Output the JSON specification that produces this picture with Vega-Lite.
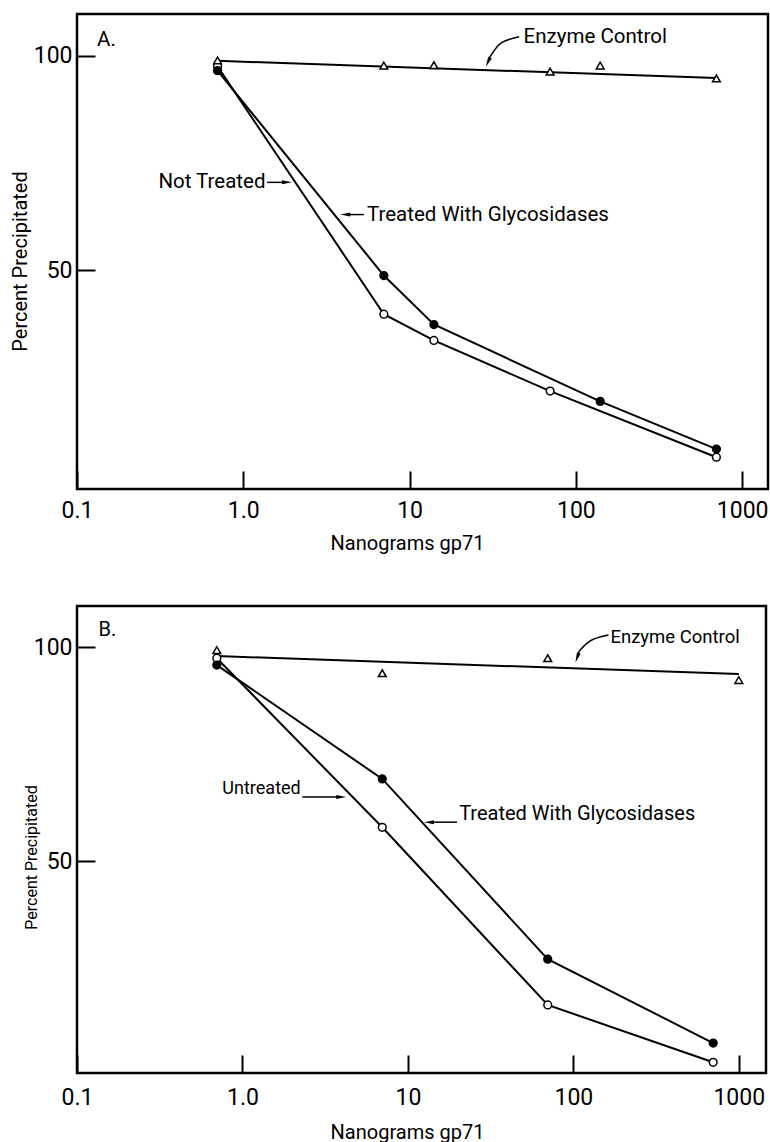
{
  "$schema": "https://vega.github.io/schema/vega-lite/v6.json",
  "background": "white",
  "padding": {"left": 8, "top": 12, "right": 0, "bottom": 0},
  "bounds": "flush",
  "spacing": 117,
  "resolve": {"scale": {"x": "independent", "y": "independent"}},
  "config": {
    "font": "Roboto",
    "view": {"stroke": "black", "strokeWidth": 2.5},
    "axis": {
      "domain": false,
      "tickColor": "black", "tickWidth": 2, "tickSize": 18, "offset": -18,
      "labelColor": "black", "labelFontSize": 23, "labelFont": "Roboto",
      "titleColor": "black", "titleFontWeight": "normal", "titleFontSize": 20, "titleFont": "Roboto",
      "grid": false, "labelFlush": false
    },
    "axisY": {"labelPadding": 5},
    "text": {"font": "Roboto", "color": "black"}
  },
  "datasets": {
    "a_points": [
      {"series": "Not Treated", "ng": 0.7, "pct": 97.5},
      {"series": "Not Treated", "ng": 7, "pct": 39.8},
      {"series": "Not Treated", "ng": 14, "pct": 33.7},
      {"series": "Not Treated", "ng": 70, "pct": 21.9},
      {"series": "Not Treated", "ng": 700, "pct": 6.5},
      {"series": "Treated With Glycosidases", "ng": 0.7, "pct": 96.5},
      {"series": "Treated With Glycosidases", "ng": 7, "pct": 48.8},
      {"series": "Treated With Glycosidases", "ng": 14, "pct": 37.4},
      {"series": "Treated With Glycosidases", "ng": 140, "pct": 19.5},
      {"series": "Treated With Glycosidases", "ng": 700, "pct": 8.4},
      {"series": "Enzyme Control", "ng": 0.7, "pct": 98.9},
      {"series": "Enzyme Control", "ng": 7, "pct": 97.7},
      {"series": "Enzyme Control", "ng": 14, "pct": 97.8},
      {"series": "Enzyme Control", "ng": 70, "pct": 96.3},
      {"series": "Enzyme Control", "ng": 140, "pct": 97.7},
      {"series": "Enzyme Control", "ng": 700, "pct": 94.7}
    ],
    "a_fit": [
      {"ng": 0.7, "pct": 98.8},
      {"ng": 700, "pct": 94.8}
    ],
    "a_arrows": [
      {"arrow": "enz", "ord": 1, "ng": 45.6, "pct": 104.4},
      {"arrow": "enz", "ord": 2, "ng": 35.6, "pct": 103.0},
      {"arrow": "enz", "ord": 3, "ng": 31.0, "pct": 100.2},
      {"arrow": "enz", "ord": 4, "ng": 29.8, "pct": 98.8},
      {"arrow": "not", "ord": 1, "ng": 1.39, "pct": 70.5},
      {"arrow": "not", "ord": 2, "ng": 1.8, "pct": 70.5},
      {"arrow": "tr", "ord": 1, "ng": 5.31, "pct": 63.0},
      {"arrow": "tr", "ord": 2, "ng": 4.2, "pct": 63.0}
    ],
    "a_heads": [
      {"arrow": "enz", "ng": 29.6, "pct": 98.5},
      {"arrow": "not", "ng": 1.83, "pct": 70.5},
      {"arrow": "tr", "ng": 4.1, "pct": 63.0}
    ],
    "a_notes": [
      {"label": "A.", "ng": 0.132, "pct": 103.7},
      {"label": "Enzyme Control", "ng": 48.5, "pct": 104.4},
      {"label": "Treated With Glycosidases", "ng": 5.54, "pct": 63.0},
      {"label": "Not Treated", "ng": 1.36, "pct": 70.5}
    ],
    "b_points": [
      {"series": "Untreated", "ng": 0.7, "pct": 97.4},
      {"series": "Untreated", "ng": 7, "pct": 57.9},
      {"series": "Untreated", "ng": 70, "pct": 16.4},
      {"series": "Untreated", "ng": 700, "pct": 3.0},
      {"series": "Treated With Glycosidases", "ng": 0.7, "pct": 95.8},
      {"series": "Treated With Glycosidases", "ng": 7, "pct": 69.2},
      {"series": "Treated With Glycosidases", "ng": 70, "pct": 27.1},
      {"series": "Treated With Glycosidases", "ng": 700, "pct": 7.5},
      {"series": "Enzyme Control", "ng": 0.7, "pct": 99.3},
      {"series": "Enzyme Control", "ng": 7, "pct": 93.9},
      {"series": "Enzyme Control", "ng": 70, "pct": 97.4},
      {"series": "Enzyme Control", "ng": 1000, "pct": 92.3}
    ],
    "b_fit": [
      {"ng": 0.7, "pct": 97.9},
      {"ng": 1000, "pct": 93.7}
    ],
    "b_arrows": [
      {"arrow": "enz", "ord": 1, "ng": 163, "pct": 102.8},
      {"arrow": "enz", "ord": 2, "ng": 128.5, "pct": 101.6},
      {"arrow": "enz", "ord": 3, "ng": 110, "pct": 99.3},
      {"arrow": "enz", "ord": 4, "ng": 105.8, "pct": 97.8},
      {"arrow": "un", "ord": 1, "ng": 2.3, "pct": 65.0},
      {"arrow": "un", "ord": 2, "ng": 3.9, "pct": 65.0},
      {"arrow": "tr", "ord": 1, "ng": 19.8, "pct": 59.1},
      {"arrow": "tr", "ord": 2, "ng": 13.6, "pct": 59.1}
    ],
    "b_heads": [
      {"arrow": "enz", "ng": 105.4, "pct": 97.5},
      {"arrow": "un", "ng": 3.95, "pct": 65.0},
      {"arrow": "tr", "ng": 13.4, "pct": 59.1}
    ],
    "b_notes": [
      {"label": "B.", "ng": 0.135, "pct": 104.0},
      {"label": "Enzyme Control", "ng": 167.5, "pct": 102.3},
      {"label": "Treated With Glycosidases", "ng": 20.4, "pct": 61.0},
      {"label": "Untreated", "ng": 2.25, "pct": 66.8}
    ]
  },
  "vconcat": [
    {
      "width": 691,
      "height": 475,
      "encoding": {
        "x": {
          "field": "ng", "type": "quantitative",
          "scale": {"type": "log", "domain": [0.1, 1430], "nice": false},
          "axis": {
            "values": [0.1, 1, 10, 100, 1000],
            "labelExpr": "datum.value < 0.5 ? '0.1' : datum.value < 5 ? '1.0' : format(datum.value, 'd')",
            "title": "Nanograms gp71", "titleX": 330, "labelPadding": 10, "titlePadding": 11
          }
        },
        "y": {
          "field": "pct", "type": "quantitative",
          "scale": {"domain": [-0.9, 109.7], "nice": false, "zero": false},
          "axis": {"values": [50, 100], "title": "Percent Precipitated", "titleY": 247, "titlePadding": 3, "titleFontSize": 20}
        }
      },
      "layer": [
        {"data": {"name": "a_points"}, "transform": [{"filter": "datum.series !== 'Enzyme Control'"}],
         "mark": {"type": "line", "color": "black", "strokeWidth": 2},
         "encoding": {"detail": {"field": "series"}}},
        {"data": {"name": "a_fit"}, "mark": {"type": "line", "color": "black", "strokeWidth": 2}, "encoding": {}},
        {"data": {"name": "a_arrows"}, "mark": {"type": "line", "color": "black", "strokeWidth": 1.5, "interpolate": "cardinal"},
         "encoding": {"detail": {"field": "arrow"}, "order": {"field": "ord"}}},
        {"data": {"name": "a_heads"}, "transform": [{"filter": "datum.arrow === 'enz'"}],
         "mark": {"type": "point", "filled": true, "color": "black", "opacity": 1, "shape": "M0,-1L0.4,1L-0.4,1Z", "size": 100, "angle": 205}, "encoding": {}},
        {"data": {"name": "a_heads"}, "transform": [{"filter": "datum.arrow === 'not'"}],
         "mark": {"type": "point", "filled": true, "color": "black", "opacity": 1, "shape": "M0,-1L0.4,1L-0.4,1Z", "size": 100, "angle": 90}, "encoding": {}},
        {"data": {"name": "a_heads"}, "transform": [{"filter": "datum.arrow === 'tr'"}],
         "mark": {"type": "point", "filled": true, "color": "black", "opacity": 1, "shape": "M0,-1L0.4,1L-0.4,1Z", "size": 100, "angle": 270}, "encoding": {}},
        {"data": {"name": "a_points"},
         "mark": {"type": "point", "filled": true, "stroke": "black", "strokeWidth": 1.5, "size": 60, "opacity": 1},
         "encoding": {
           "shape": {"field": "series", "type": "nominal", "scale": {"domain": ["Not Treated", "Untreated", "Treated With Glycosidases", "Enzyme Control"], "range": ["circle", "circle", "circle", "triangle-up"]}, "legend": null},
           "fill": {"field": "series", "type": "nominal", "scale": {"domain": ["Not Treated", "Untreated", "Treated With Glycosidases", "Enzyme Control"], "range": ["white", "white", "black", "white"]}, "legend": null}
         }},
        {"data": {"name": "a_notes"}, "transform": [{"filter": "datum.label !== 'Not Treated'"}],
         "mark": {"type": "text", "align": "left", "baseline": "middle", "fontSize": 20.5},
         "encoding": {"text": {"field": "label"}}},
        {"data": {"name": "a_notes"}, "transform": [{"filter": "datum.label === 'Not Treated'"}],
         "mark": {"type": "text", "align": "right", "baseline": "middle", "fontSize": 20.5},
         "encoding": {"text": {"field": "label"}}}
      ]
    },
    {
      "width": 689,
      "height": 467,
      "encoding": {
        "x": {
          "field": "ng", "type": "quantitative",
          "scale": {"type": "log", "domain": [0.1, 1460], "nice": false},
          "axis": {
            "values": [0.1, 1, 10, 100, 1000],
            "labelExpr": "datum.value < 0.5 ? '0.1' : datum.value < 5 ? '1.0' : format(datum.value, 'd')",
            "title": "Nanograms gp71", "titleX": 330, "labelPadding": 13, "titlePadding": 13
          }
        },
        "y": {
          "field": "pct", "type": "quantitative",
          "scale": {"domain": [0.5, 109.6], "nice": false, "zero": false},
          "axis": {"values": [50, 100], "title": "Percent Precipitated", "titleY": 251, "titlePadding": -6, "titleFontSize": 16}
        }
      },
      "layer": [
        {"data": {"name": "b_points"}, "transform": [{"filter": "datum.series !== 'Enzyme Control'"}],
         "mark": {"type": "line", "color": "black", "strokeWidth": 2},
         "encoding": {"detail": {"field": "series"}}},
        {"data": {"name": "b_fit"}, "mark": {"type": "line", "color": "black", "strokeWidth": 2}, "encoding": {}},
        {"data": {"name": "b_arrows"}, "mark": {"type": "line", "color": "black", "strokeWidth": 1.5, "interpolate": "cardinal"},
         "encoding": {"detail": {"field": "arrow"}, "order": {"field": "ord"}}},
        {"data": {"name": "b_heads"}, "transform": [{"filter": "datum.arrow === 'enz'"}],
         "mark": {"type": "point", "filled": true, "color": "black", "opacity": 1, "shape": "M0,-1L0.4,1L-0.4,1Z", "size": 100, "angle": 200}, "encoding": {}},
        {"data": {"name": "b_heads"}, "transform": [{"filter": "datum.arrow === 'un'"}],
         "mark": {"type": "point", "filled": true, "color": "black", "opacity": 1, "shape": "M0,-1L0.4,1L-0.4,1Z", "size": 100, "angle": 90}, "encoding": {}},
        {"data": {"name": "b_heads"}, "transform": [{"filter": "datum.arrow === 'tr'"}],
         "mark": {"type": "point", "filled": true, "color": "black", "opacity": 1, "shape": "M0,-1L0.4,1L-0.4,1Z", "size": 100, "angle": 270}, "encoding": {}},
        {"data": {"name": "b_points"},
         "mark": {"type": "point", "filled": true, "stroke": "black", "strokeWidth": 1.5, "size": 60, "opacity": 1},
         "encoding": {
           "shape": {"field": "series", "type": "nominal", "scale": {"domain": ["Not Treated", "Untreated", "Treated With Glycosidases", "Enzyme Control"], "range": ["circle", "circle", "circle", "triangle-up"]}, "legend": null},
           "fill": {"field": "series", "type": "nominal", "scale": {"domain": ["Not Treated", "Untreated", "Treated With Glycosidases", "Enzyme Control"], "range": ["white", "white", "black", "white"]}, "legend": null}
         }},
        {"data": {"name": "b_notes"}, "transform": [{"filter": "datum.label !== 'Untreated' && datum.label !== 'Enzyme Control'"}],
         "mark": {"type": "text", "align": "left", "baseline": "middle", "fontSize": 20},
         "encoding": {"text": {"field": "label"}}},
        {"data": {"name": "b_notes"}, "transform": [{"filter": "datum.label === 'Enzyme Control'"}],
         "mark": {"type": "text", "align": "left", "baseline": "middle", "fontSize": 18.5},
         "encoding": {"text": {"field": "label"}}},
        {"data": {"name": "b_notes"}, "transform": [{"filter": "datum.label === 'Untreated'"}],
         "mark": {"type": "text", "align": "right", "baseline": "middle", "fontSize": 18},
         "encoding": {"text": {"field": "label"}}}
      ]
    }
  ]
}
